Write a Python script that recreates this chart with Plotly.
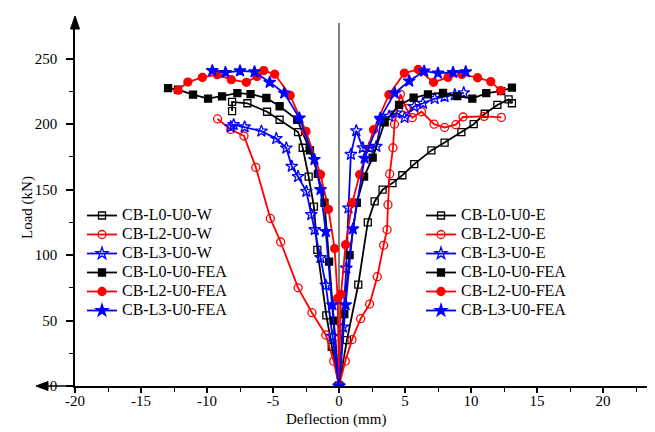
import plotly.graph_objects as go

# ---------------- data ----------------
L0_W_x = [0, -0.55, -0.96, -1.64, -1.9, -2.3, -2.75, -3.1, -4.5, -5.45, -6.94, -8.1, -8.1]
L0_W_y = [0, 30, 54, 104, 137, 160, 182, 194, 203.4, 209.5, 216, 217, 210]

L2_W_x = [0, -0.4, -1.0, -2.05, -3.1, -4.42, -5.2, -6.3, -7.2, -8.2, -9.2]
L2_W_y = [0, 19, 39, 56, 75, 110, 128, 167, 191, 196, 204]

L3_W_x = [0, -0.5, -1.0, -1.4, -1.84, -2.1, -2.47, -3.1, -3.58, -3.99, -4.75, -5.88, -7.15, -7.98, -8.2]
L3_W_y = [0, 38, 77, 98, 119.4, 131, 148.6, 160, 167.8, 181.8, 189, 194.7, 197.9, 199.6, 198]

L0_E_x = [0, 0.6, 1.46, 2.18, 2.7, 3.3, 4.05, 4.8, 5.7, 7.0, 8.0, 9.27, 10.2, 11.04, 12.0, 12.85, 13.1]
L0_E_y = [0, 35, 77.5, 125, 141, 150, 155, 161, 169.5, 180, 186, 194, 200, 208, 214.7, 219, 216]

L2_E_x = [0, 0.48, 0.98, 1.64, 2.32, 2.9, 3.38, 3.64, 3.71, 3.84, 4.09, 4.2, 4.65, 5.1, 5.55, 6.25, 7.2, 8.0, 8.85, 9.4, 11.0, 12.3]
L2_E_y = [0, 19, 35.4, 51.4, 62.6, 83.5, 107.5, 119.4, 138.5, 162, 182, 200, 223, 212, 205, 209.5, 200, 197.5, 199.6, 205.5, 206, 205.2]

L3_E_x = [0, 0.3, 0.55, 0.72, 0.9, 1.31, 1.8, 2.3, 2.83, 3.2, 3.8, 4.35, 4.97, 5.7, 6.36, 7.25, 8.0, 8.77, 9.45]
L3_E_y = [0, 45, 90, 136, 177, 195, 182, 182, 183, 203, 206, 208.5, 205, 213.5, 216, 219.5, 221, 222.5, 224]

L0_FEA_W_x = [0, -0.4, -0.75, -1.1, -1.6, -2.2, -3.16, -4.5, -5.5, -6.7, -7.7, -8.86, -9.92, -11.06, -12.2, -12.95]
L0_FEA_W_y = [0, 50, 95, 140, 162, 180, 203.4, 213.7, 220, 223, 223.8, 221.3, 219.5, 222.6, 226.4, 227.6]

L2_FEA_W_x = [0, -0.1, -0.33, -0.8, -1.4, -2.5, -3.7, -4.87, -5.7, -6.2, -7.02, -8.16, -9.22, -10.35, -11.45, -12.2]
L2_FEA_W_y = [0, 67, 105, 135, 161.5, 194.5, 222, 238.2, 241, 236.5, 232, 234, 237.8, 235.8, 232.2, 226]

L3_FEA_W_x = [0, -0.5, -1.0, -1.4, -1.86, -3.0, -4.15, -5.25, -6.4, -7.5, -8.6, -9.6]
L3_FEA_W_y = [0, 62, 118, 150, 173, 204.7, 223.8, 232, 240, 240.7, 239.5, 240.9]

L0_FEA_E_x = [0, 0.4, 0.8, 1.35, 1.9, 2.55, 3.46, 4.55, 5.65, 6.74, 7.88, 8.96, 10.1, 11.16, 12.28, 13.1]
L0_FEA_E_y = [0, 55, 100, 140, 160, 174.5, 201.5, 214.7, 220.2, 222.8, 224, 221.5, 219.5, 223.8, 225.3, 228]

L2_FEA_E_x = [0, 0.15, 0.5, 1.0, 1.57, 2.62, 3.78, 4.95, 6.0, 7.16, 8.26, 9.3, 10.5, 11.5, 12.25]
L2_FEA_E_y = [0, 70, 108, 140, 161.5, 195.8, 222.5, 239, 241.8, 232, 235.8, 238, 235.5, 232.5, 225.7]

L3_FEA_E_x = [0, 0.5, 1.05, 1.94, 3.12, 4.22, 5.32, 6.45, 7.5, 8.64, 9.6]
L3_FEA_E_y = [0, 62, 120, 174, 204.5, 223.8, 233, 240.5, 239, 239.5, 240]

x_ticks = [-20, -15, -10, -5, 0, 5, 10, 15, 20]
x_tick_text = ["-20", "-15", "-10", "-5", "0", "5", "10", "15", "20"]
y_ticks = [0, 50, 100, 150, 200, 250]

# ---------------- figure ----------------
FONT = "Liberation Serif"
BLACK, RED, BLUE = "#000000", "#ff0000", "#0000ff"

fig = go.Figure()

def add(x, y, name, color, symbol, legend, size=7):
    fig.add_trace(go.Scatter(
        x=x, y=y, mode="lines+markers", legend=legend,
        name=f'<span style="font-size:16px">{name}</span>',
        line=dict(color=color, width=1.8),
        marker=dict(symbol=symbol, size=size, color=color,
                    line=dict(color=color, width=1.3)),
    ))

add(L0_W_x, L0_W_y, "CB-L0-U0-W", BLACK, "square-open", "legend")
add(L2_W_x, L2_W_y, "CB-L2-U0-W", RED, "circle-open", "legend", 8)
add(L3_W_x, L3_W_y, "CB-L3-U0-W", BLUE, "star-open", "legend", 9)
add(L0_E_x, L0_E_y, "CB-L0-U0-E", BLACK, "square-open", "legend2")
add(L2_E_x, L2_E_y, "CB-L2-U0-E", RED, "circle-open", "legend2", 8)
add(L3_E_x, L3_E_y, "CB-L3-U0-E", BLUE, "star-open", "legend2", 9)
add(L0_FEA_W_x, L0_FEA_W_y, "CB-L0-U0-FEA", BLACK, "square", "legend")
add(L2_FEA_W_x, L2_FEA_W_y, "CB-L2-U0-FEA", RED, "circle", "legend", 8)
add(L3_FEA_W_x, L3_FEA_W_y, "CB-L3-U0-FEA", BLUE, "star", "legend", 9)
add(L0_FEA_E_x, L0_FEA_E_y, "CB-L0-U0-FEA", BLACK, "square", "legend2")
add(L2_FEA_E_x, L2_FEA_E_y, "CB-L2-U0-FEA", RED, "circle", "legend2", 8)
add(L3_FEA_E_x, L3_FEA_E_y, "CB-L3-U0-FEA", BLUE, "star", "legend2", 9)

W, H = 655, 432
ML, MR, MT, MB = 67, 8, 20, 54
pw, ph = W - ML - MR, H - MT - MB

def px(xp):
    return (xp - ML) / pw

def py(yp):
    return (H - MB - yp) / ph

legend_style = dict(
    bgcolor="rgba(0,0,0,0)", borderwidth=0,
    font=dict(family=FONT, size=12, color="#000"),
    xanchor="left", yanchor="top", tracegroupgap=0, itemwidth=30,
)

fig.update_layout(
    width=W, height=H,
    margin=dict(l=ML, r=MR, t=MT, b=MB),
    paper_bgcolor="white", plot_bgcolor="white",
    font=dict(family=FONT, size=15, color="#000"),
    showlegend=True,
    legend=dict(x=px(74), y=py(193), **legend_style),
    legend2=dict(x=px(413), y=py(193), **legend_style),
    xaxis=dict(
        range=[-20, (W - MR - ML) / 13.2 - 20],
        tickvals=x_ticks, ticktext=x_tick_text, ticks="outside", ticklen=5, tickwidth=1.5,
        tickcolor="#000", showline=True, linecolor="#000", linewidth=1.5,
        showgrid=False, zeroline=False, ticklabelstandoff=-5,
        minor=dict(dtick=2.5, tick0=0, ticks="outside", ticklen=4,
                   tickwidth=1.2, tickcolor="#000", showgrid=False),
        tickfont=dict(family=FONT, size=15),
    ),
    yaxis=dict(
        range=[0, ph / 1.309],
        tickvals=y_ticks, ticks="outside", ticklen=7, tickwidth=1.5,
        tickcolor="#000", showline=True, linecolor="#000", linewidth=1.5,
        showgrid=False, zeroline=False, ticklabelstandoff=6,
        minor=dict(dtick=25, tick0=0, ticks="outside", ticklen=4,
                   tickwidth=1.2, tickcolor="#000", showgrid=False),
        tickfont=dict(family=FONT, size=15),
    ),
)

# zero reference line
fig.add_shape(type="line", xref="x", yref="paper", x0=0, x1=0, y0=0, y1=py(15),
              line=dict(color="#555", width=1.5), layer="below")
# axis extension to left + arrows
fig.add_shape(type="line", xref="paper", yref="paper", x0=px(32), x1=0, y0=0, y1=0,
              line=dict(color="#000", width=1.5))
arrow_paths = [
    f"M{px(67)},{py(8)} L{px(62.5)},{py(21)} L{px(71.5)},{py(21)} Z",
    f"M{px(655)},{py(378)} L{px(643)},{py(373.5)} L{px(643)},{py(382.5)} Z",
    f"M{px(28)},{py(378)} L{px(40)},{py(373.5)} L{px(40)},{py(382.5)} Z",
]
for p in arrow_paths:
    fig.add_shape(type="path", xref="paper", yref="paper", path=p,
                  fillcolor="#000", line=dict(color="#000", width=1))

fig.add_annotation(text="Deflection (mm)", xref="paper", yref="paper",
                   x=px(328), y=py(411), showarrow=False,
                   xanchor="center", yanchor="middle",
                   font=dict(family=FONT, size=15))
fig.add_annotation(text="Load (kN)", xref="paper", yref="paper",
                   x=px(19), y=py(200), showarrow=False, textangle=-90,
                   xanchor="center", yanchor="middle",
                   font=dict(family=FONT, size=15))

fig.write_html("out.html")
